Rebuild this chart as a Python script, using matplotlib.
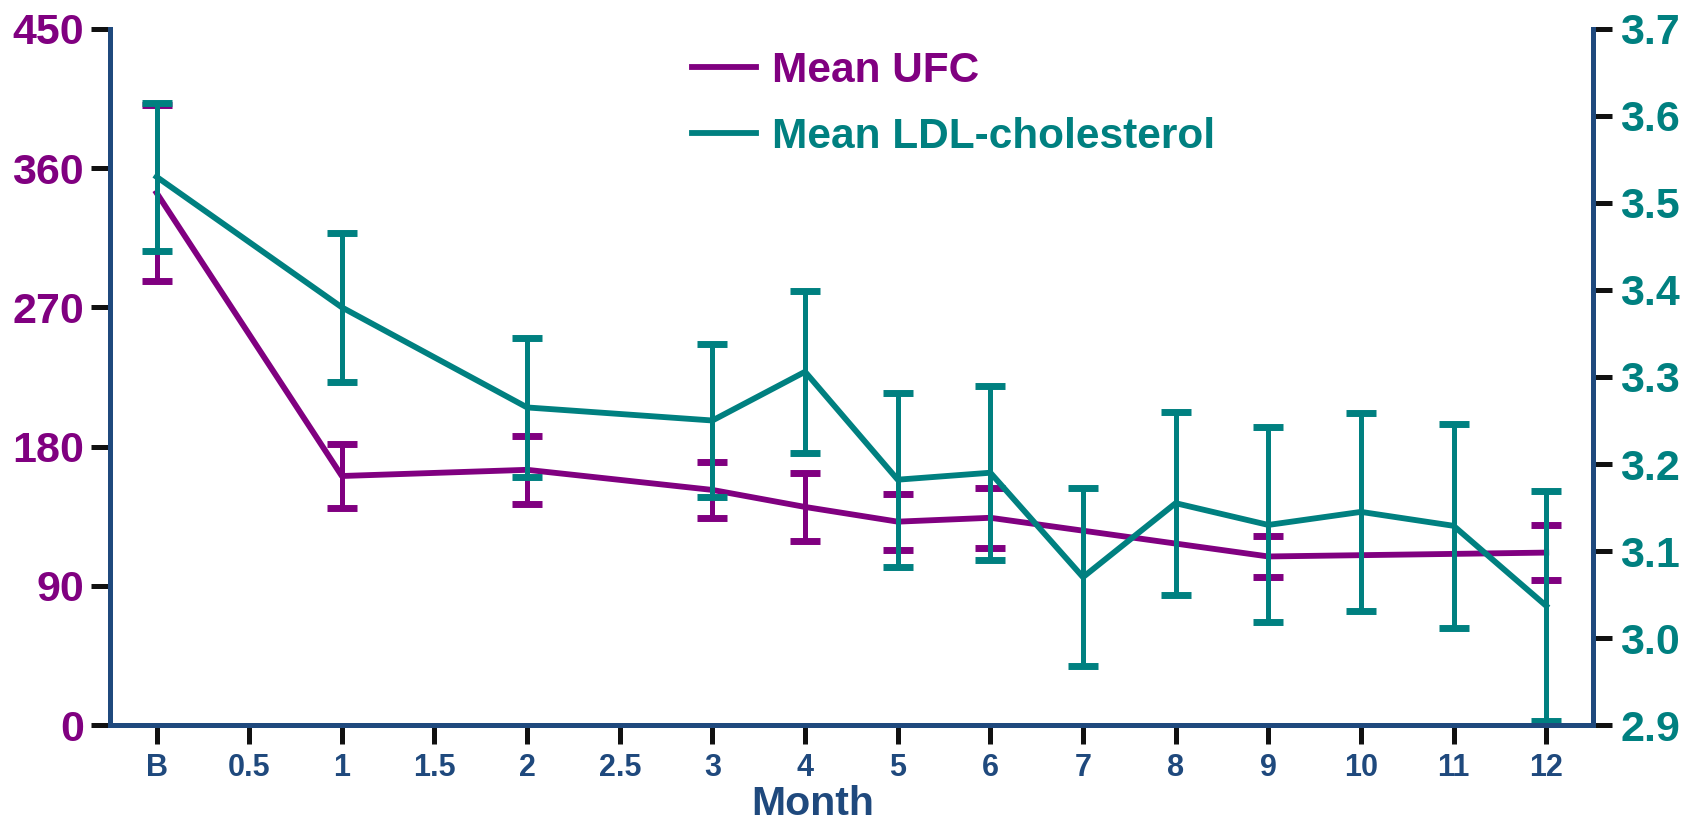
import matplotlib
matplotlib.use("Agg")
import matplotlib.pyplot as plt

plt.rcParams['font.family'] = ['Liberation Sans', 'DejaVu Sans']
plt.rcParams['font.weight'] = 'bold'

# month categories, equally spaced on the axis
month_labels = ['B', '0.5', '1', '1.5', '2', '2.5', '3', '4', '5', '6',
                '7', '8', '9', '10', '11', '12']

# mean UFC (left axis)
ufc_months = ['B', '1', '2', '3', '4', '5', '6', '9', '12']
ufc_mean = [344, 161, 165, 152, 141, 131.5, 134, 109, 111.5]
ufc_err = [57, 20.5, 22, 18, 22, 18, 19.5, 13.5, 18]

# mean LDL-cholesterol (right axis)
ldl_months = ['B', '1', '2', '3', '4', '5', '6', '7', '8', '9', '10', '11', '12']
ldl_mean = [3.53, 3.38, 3.265, 3.25, 3.306, 3.182, 3.19, 3.07, 3.155,
            3.13, 3.145, 3.129, 3.037]
ldl_err = [0.085, 0.086, 0.08, 0.088, 0.093, 0.1, 0.1, 0.102, 0.105,
           0.112, 0.114, 0.117, 0.132]

PURPLE = '#800080'
TEAL = '#008080'
NAVY = '#1f497d'

pos = {m: i for i, m in enumerate(month_labels)}
ufc_x = [pos[m] for m in ufc_months]
ldl_x = [pos[m] for m in ldl_months]

fig = plt.figure(figsize=(16.96, 8.24), dpi=100)
ax = fig.add_axes([0.065, 0.12, 0.874, 0.845])
ax2 = ax.twinx()

eb1 = ax.errorbar(ufc_x, ufc_mean, yerr=ufc_err, color=PURPLE, lw=4.2,
                  elinewidth=3.6, capsize=10.5, capthick=5,
                  label='Mean UFC')
eb2 = ax2.errorbar(ldl_x, ldl_mean, yerr=ldl_err, color=TEAL, lw=4.2,
                   elinewidth=3.6, capsize=10.5, capthick=5,
                   label='Mean LDL-cholesterol')

ax.set_xlim(-0.5, 15.5)
ax.set_ylim(0, 450)
ax.set_yticks(range(0, 451, 90))
ax2.set_ylim(2.9, 3.7)
ax2.set_yticks([2.9 + 0.1 * i for i in range(9)])
ax2.set_yticklabels(['%.1f' % (2.9 + 0.1 * i) for i in range(9)])
ax.set_xticks(range(len(month_labels)))
ax.set_xticklabels(month_labels)

for a in (ax, ax2):
    a.spines['top'].set_visible(False)
    for s in ('left', 'right', 'bottom'):
        a.spines[s].set_color(NAVY)
        a.spines[s].set_linewidth(3.6)
    a.tick_params(length=14, width=3.6, color='#111111')

ax.tick_params(axis='y', labelsize=31, labelcolor=PURPLE, pad=5)
ax2.tick_params(axis='y', labelsize=31, labelcolor=TEAL, pad=6)
ax.tick_params(axis='x', labelsize=22, labelcolor=NAVY, pad=6)

ax.set_xlabel('Month', fontsize=29.5, color=NAVY, fontweight='bold')
ax.xaxis.set_label_coords(0.474, -0.086)

ax2.legend([eb1[0], eb2[0]], ['Mean UFC', 'Mean LDL-cholesterol'],
           loc='upper left', bbox_to_anchor=(0.408, 0.938),
           bbox_transform=fig.transFigure, frameon=False, fontsize=30.5,
           labelcolor='linecolor', handlelength=1.5, handletextpad=0.4,
           labelspacing=0.6, borderpad=0, borderaxespad=0)

fig.savefig('out.png', dpi=100)
